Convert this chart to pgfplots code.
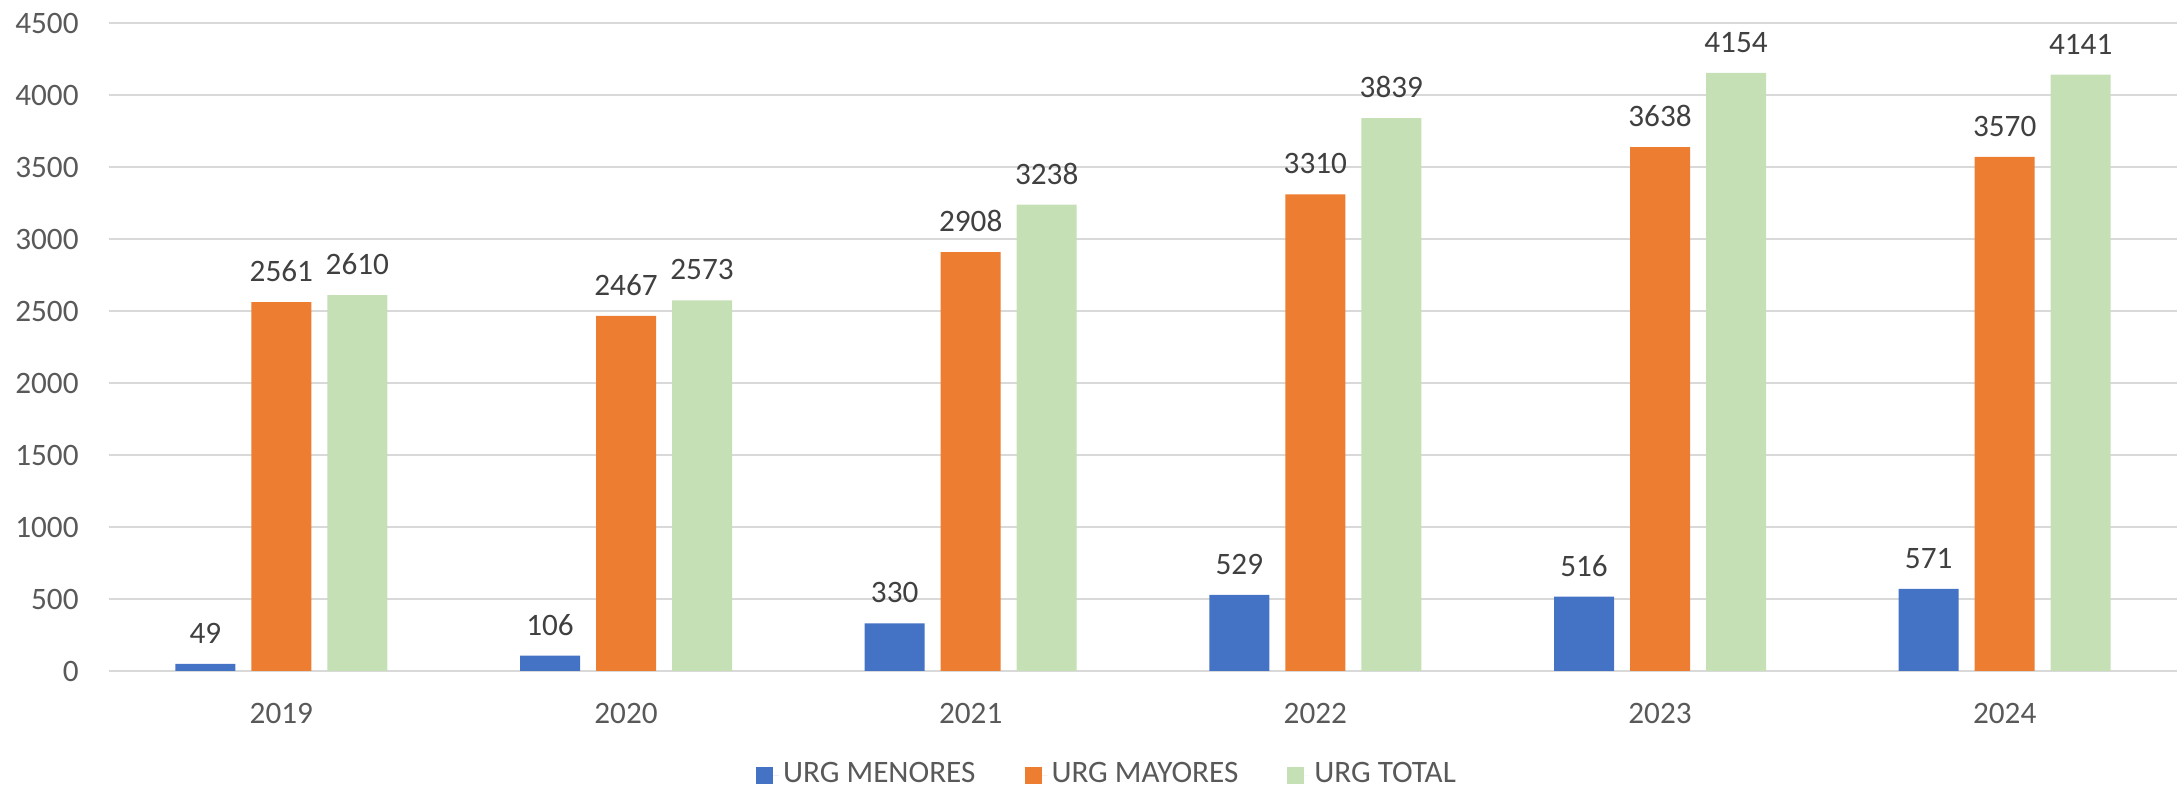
\documentclass[border=0pt]{standalone}
\usepackage{fontspec}
\setmainfont{Carlito}
\usepackage{pgfplots}
\pgfplotsset{compat=1.18}
\definecolor{cblue}{HTML}{4472C4}
\definecolor{corange}{HTML}{ED7D31}
\definecolor{cgreen}{HTML}{C5E0B4}
\definecolor{gridgray}{HTML}{D9D9D9}
\definecolor{labelgray}{HTML}{595959}
\definecolor{valgray}{HTML}{404040}
\newcommand{\chartfont}{\fontsize{15.6}{18}\selectfont}
\begin{document}
\chartfont
\begin{tikzpicture}
\useasboundingbox (-54.5pt,-60pt) rectangle (1037pt,335.5pt);
\begin{axis}[
  at={(0pt,0pt)}, anchor=south west,
  scale only axis, width=1034pt, height=324pt,
  ybar=8pt, bar width=30pt,
  every axis plot post/.append style={
    legend image code/.code={\fill[##1] (0pt,-4.25pt) rectangle (8.5pt,4.25pt); \path (0pt,0pt) -- (11.5pt,0pt);}},
  enlargelimits=false,
  xmin=-0.5, xmax=5.5, ymin=0, ymax=4500,
  xtick={0,1,2,3,4,5},
  xticklabels={2019,2020,2021,2022,2023,2024},
  ytick={0,500,...,4500},
  ymajorgrids, grid style={color=gridgray, line width=0.65pt},
  axis line style={draw=none},
  major tick length=0pt,
  tick label style={font=\chartfont, text=labelgray},
  yticklabel style={inner sep=0pt, anchor=east, xshift=-15pt},
  xticklabel style={inner sep=0pt, anchor=north, yshift=-16pt},
  /pgf/number format/assume math mode=true,
  /pgf/number format/1000 sep={},
  nodes near coords,
  every node near coord/.append style={font=\chartfont, text=valgray, inner sep=0pt, anchor=south, yshift=10pt},
  clip=false,
  legend style={at={(0.4831,-0.1605)}, anchor=center, draw=none, fill=none,
    legend columns=3, font=\chartfont, text=labelgray,
    /tikz/every even column/.append style={column sep=22.5pt}},
  legend cell align=left,
]
\addplot[draw=none, fill=cblue] coordinates {(0,49) (1,106) (2,330) (3,529) (4,516) (5,571)};
\addplot[draw=none, fill=corange] coordinates {(0,2561) (1,2467) (2,2908) (3,3310) (4,3638) (5,3570)};
\addplot[draw=none, fill=cgreen] coordinates {(0,2610) (1,2573) (2,3238) (3,3839) (4,4154) (5,4141)};
\legend{URG MENORES, URG MAYORES, URG TOTAL}
\end{axis}
\end{tikzpicture}
\end{document}
